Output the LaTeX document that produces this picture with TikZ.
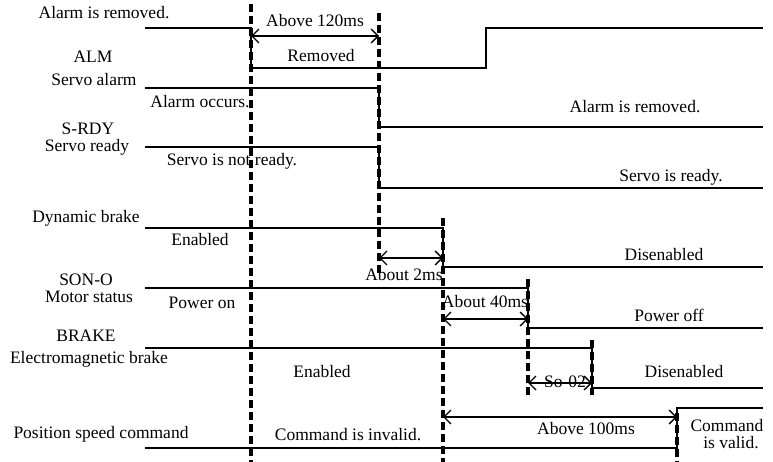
\documentclass[tikz,border=0pt]{standalone}
\usepackage{fontspec}
\setmainfont{Liberation Serif}
\usetikzlibrary{arrows.meta}

\begin{document}
\begin{tikzpicture}[x=1pt,y=-1pt,
  sig/.style={line width=1.8pt},
  guide/.style={line width=3.4pt,dash pattern=on 8pt off 4pt},
  dim/.style={{Straight Barb[length=7pt,width=14pt]}-{Straight Barb[length=7pt,width=14pt]},line width=1.4pt},
  lbl/.style={anchor=base,inner sep=0pt,font=\fontsize{17.5}{20}\selectfont}]
\useasboundingbox (0,0) rectangle (773,462);
% signal names
\node[lbl] (almrem) at (104,19) {Alarm is removed.};
\node[lbl] (alm) at (93,63) {ALM};
\node[lbl] (servoalm) at (94,86) {Servo alarm};
\node[lbl] (srdy) at (88,135) {S-RDY};
\node[lbl] (servordy) at (87,152) {Servo ready};
\node[lbl] (dynbrk) at (86,223) {Dynamic brake};
\node[lbl] (sono) at (86,285) {SON-O};
\node[lbl] (motor) at (89,302) {Motor status};
\node[lbl] (brake) at (86,341) {BRAKE};
\node[lbl] (embrake) at (89,363) {Electromagnetic brake};
\node[lbl] (poscmd) at (101,438) {Position speed command};
% signal waveforms
\draw[sig] (145,28) -- (251,28) -- (251,68) -- (486,68) -- (486,28) -- (763,28);
\draw[sig] (145,88) -- (379,88) -- (379,127) -- (763,127);
\draw[sig] (145,147) -- (379,147) -- (379,188) -- (763,188);
\draw[sig] (145,228) -- (443,228) -- (443,267) -- (763,267);
\draw[sig] (145,288) -- (528,288) -- (528,328) -- (763,328);
\draw[sig] (145,348) -- (592,348) -- (592,388) -- (763,388);
\draw[sig] (145,448) -- (677,448) -- (677,408) -- (763,408);
% state texts
\node[lbl] (removed) at (321,62) {Removed};
\node[lbl] (occurs) at (200,108) {Alarm occurs.};
\node[lbl] (almok) at (635,113) {Alarm is removed.};
\node[lbl] (notrdy) at (232,166) {Servo is not ready.};
\node[lbl] (rdy) at (671,182) {Servo is ready.};
\node[lbl] (dbon) at (200,246) {Enabled};
\node[lbl] (dboff) at (664,260) {Disenabled};
\node[lbl] (pwron) at (202,308) {Power on};
\node[lbl] (pwroff) at (669,321) {Power off};
\node[lbl] (bkon) at (322,377) {Enabled};
\node[lbl] (bkoff) at (684,377) {Disenabled};
\node[lbl] (cmdinv) at (348,440) {Command is invalid.};
\node[lbl] (cmdok) at (727,431) {Command};
\node[lbl] (cmdok2) at (731,448) {is valid.};
% time markers
\foreach \n/\x/\ya/\yb in {g0/251/4/462,g1/379/13/274,g2/443/218/462,g3/528/279/395,g4/592/340/395,g5/677/413/462}{
  \coordinate (\n) at (\x,\ya);
  \draw[guide] (\n) -- (\x,\yb);}
% intervals
\draw[dim] (g0 |- 0,36) -- (g1 |- 0,36);
\node[lbl] (t120) at (315,27) {Above 120ms};
\draw[dim] (g1 |- 0,258) -- (g2 |- 0,258);
\node[lbl] (t2) at (404,280) {About 2ms};
\draw[dim] (g2 |- 0,319) -- (g3 |- 0,319);
\node[lbl] (t40) at (485,307) {About 40ms};
\draw[dim] (g3 |- 0,383) -- (g4 |- 0,383);
\node[lbl] (so02) at (565,387) {So-02};
\draw[dim] (g2 |- 0,417) -- (g5 |- 0,417);
\node[lbl] (t100) at (586,434) {Above 100ms};
\end{tikzpicture}
\end{document}
